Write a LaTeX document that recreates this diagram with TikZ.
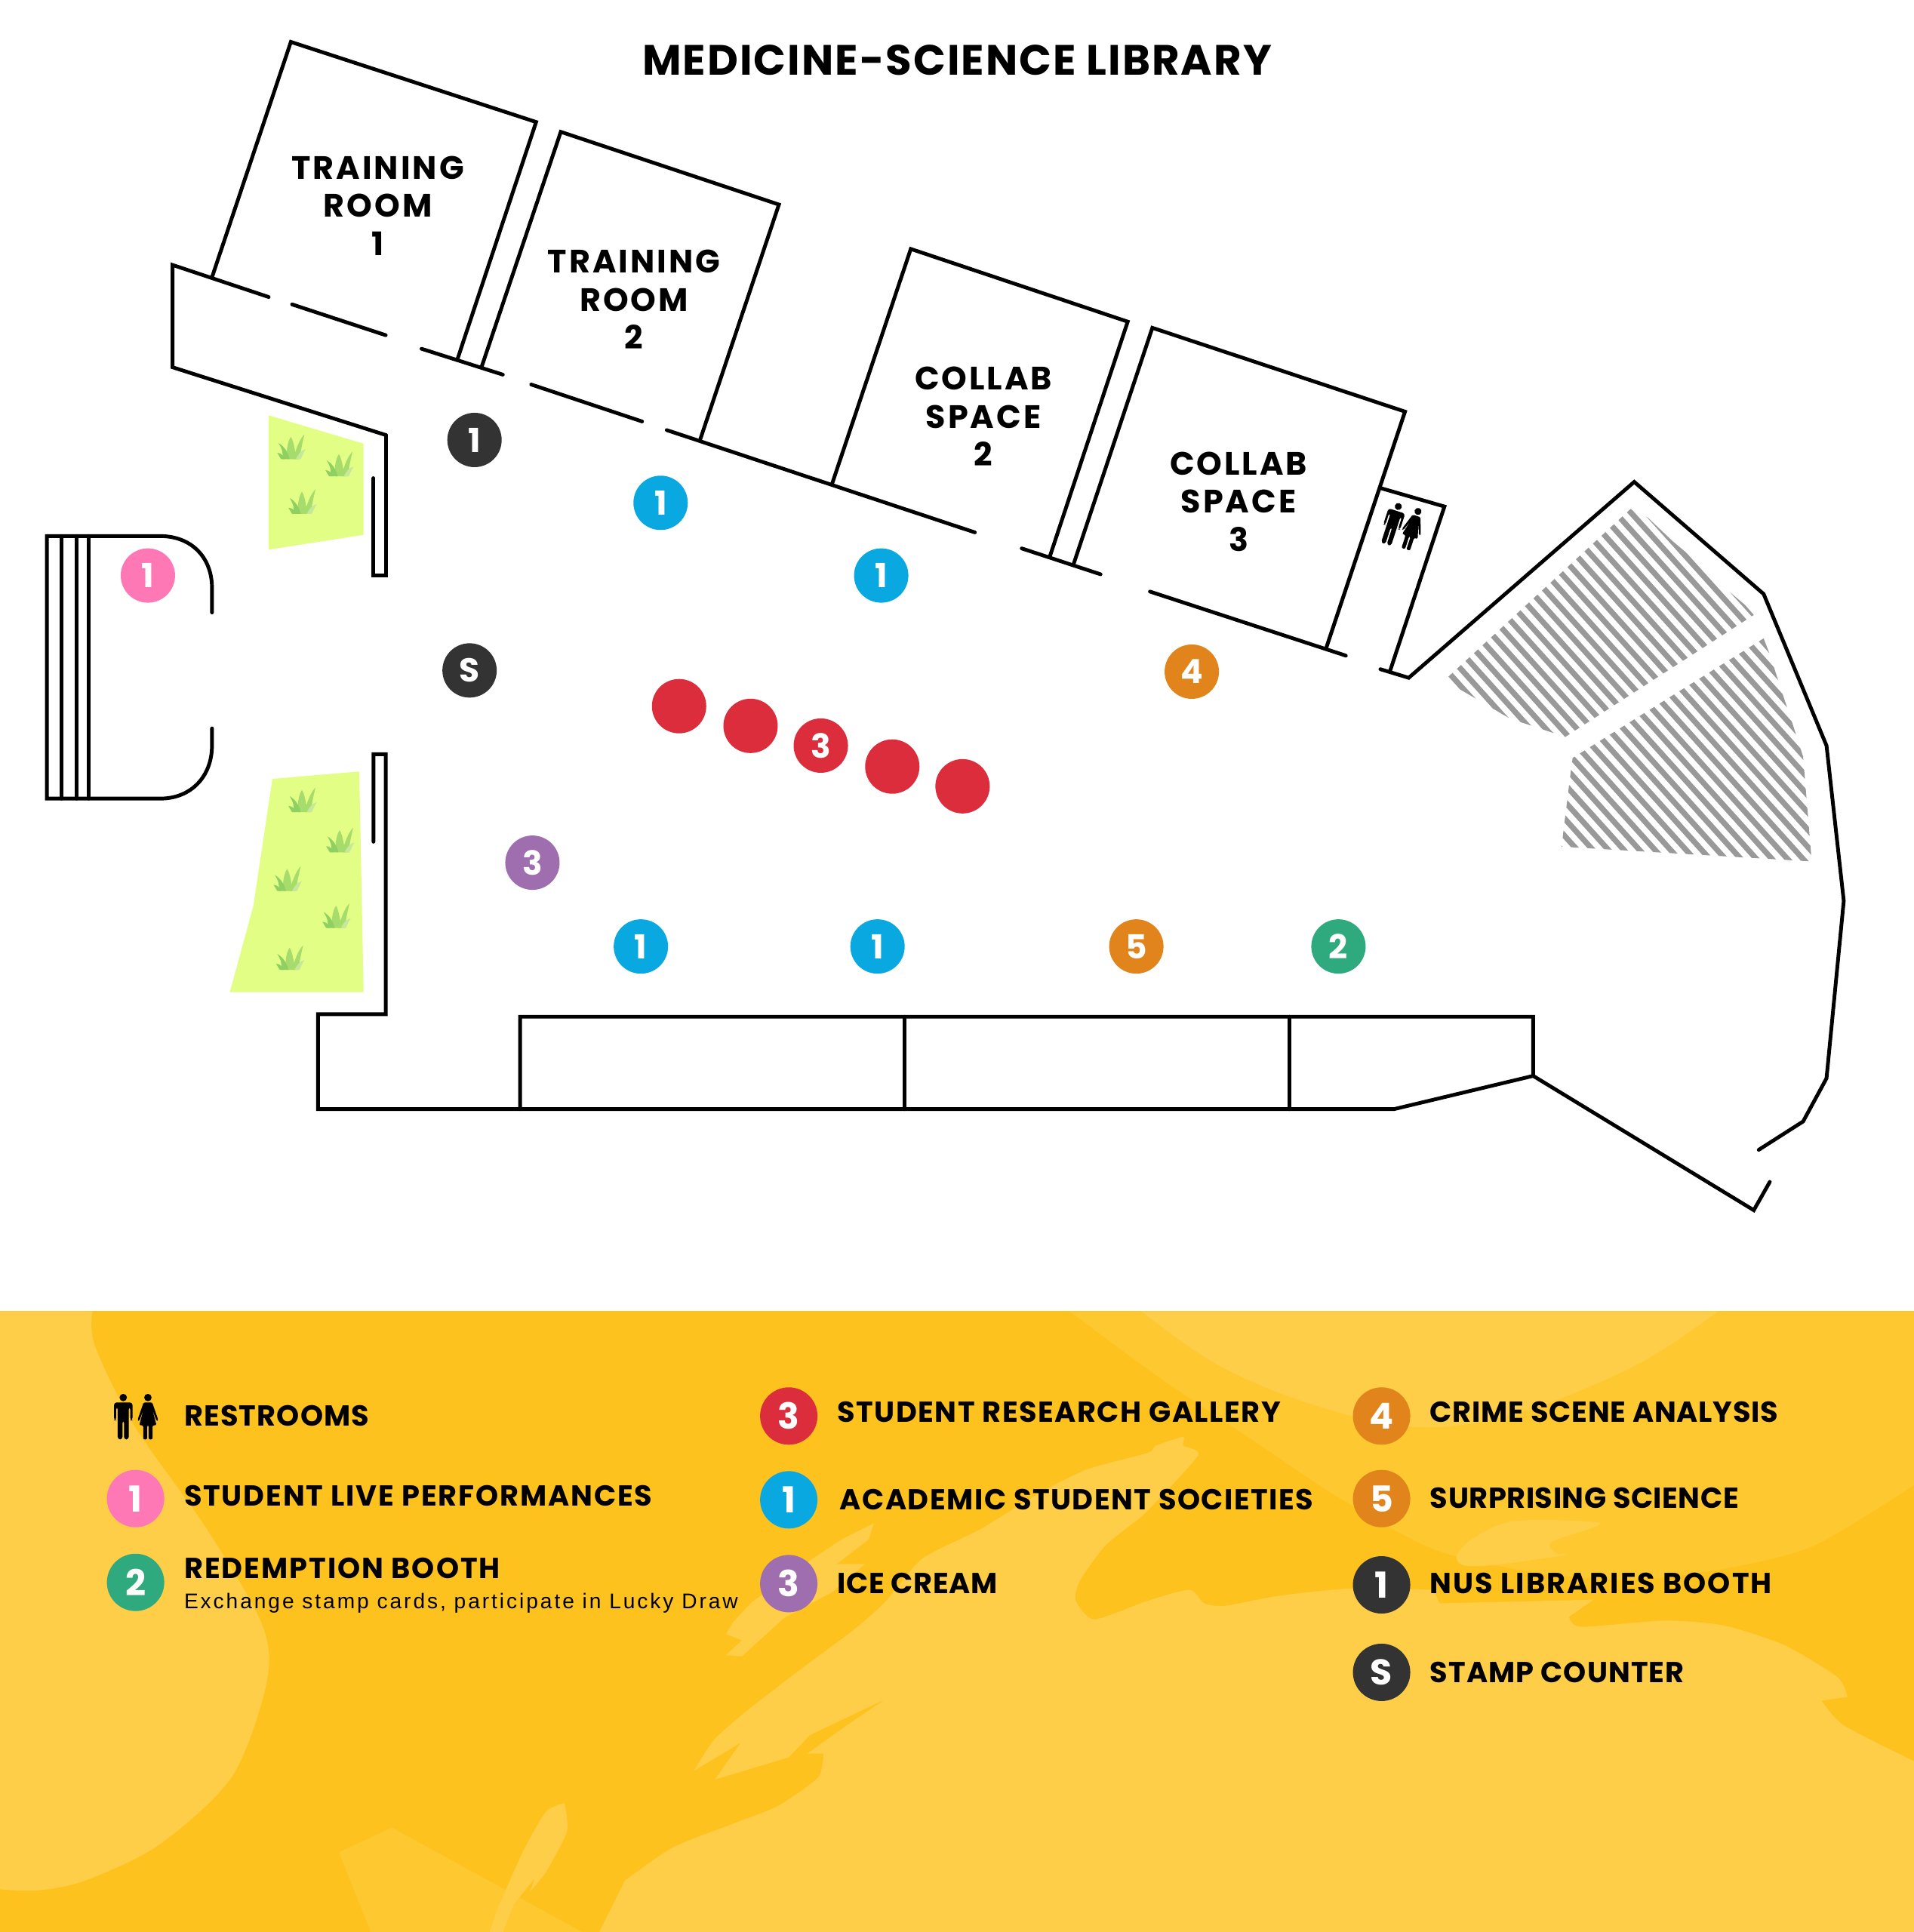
\documentclass[tikz,border=0pt]{standalone}
\usepackage{fontspec}
\setmainfont{Poppins}
\newfontfamily\titlefont{Poppins}[LetterSpace=3.6]
\newfontfamily\roomfont{Poppins}[LetterSpace=7]
\newfontfamily\legendfont{Poppins}[LetterSpace=4]
\newfontfamily\notefont{Liberation Sans}[LetterSpace=10.5]
\newcommand{\spaced}[2]{{\addfontfeature{LetterSpace=#1}#2}}
\usetikzlibrary{positioning}
\definecolor{basey}{HTML}{FDC21D}
\definecolor{midy}{HTML}{FEC830}
\definecolor{lighty}{HTML}{FECE48}
\definecolor{lawn}{HTML}{E3FE85}
\definecolor{bladea}{HTML}{A6DC6C}
\definecolor{bladeb}{HTML}{8FD062}
\definecolor{bladec}{HTML}{C6E89A}
\definecolor{darkc}{HTML}{333333}
\definecolor{bluec}{HTML}{0AA8E0}
\definecolor{pinkc}{HTML}{FF78B6}
\definecolor{redc}{HTML}{DC2D3D}
\definecolor{orangec}{HTML}{E1841B}
\definecolor{purplec}{HTML}{9E6EAF}
\definecolor{greenc}{HTML}{2EAA7E}
\tikzset{
	wall/.style={line width=1.4pt, line cap=round, line join=miter},
	spot/.style={circle, inner sep=0pt, minimum size=7.2mm, text=white, font=\fontsize{12.5}{14}\selectfont\bfseries},
	bigspot/.style={spot, minimum size=7.6mm, font=\fontsize{13.5}{15}\selectfont\bfseries},
	room/.style={align=center, font=\roomfont\fontsize{12.2}{14.4}\selectfont\bfseries},
	legendtext/.style={anchor=base west, inner sep=0pt, font=\legendfont\fontsize{10.9}{13}\selectfont\bfseries},
	stripe/.style={line width=2.1pt, color=black!40},
	tuft/.pic={
		\fill[bladea] (-3,10) .. controls (-4,1) and (-2,-5) .. (0,-8) .. controls (3,-3) and (3,4) .. (5,10) -- cycle;
		\fill[bladeb] (-7,10) .. controls (-6,5) and (-7,2) .. (-10,-3) .. controls (-5,0) and (-2,5) .. (-1,10) -- cycle;
		\fill[bladea] (2,10) .. controls (4,2) and (7,-6) .. (11,-10) .. controls (9,-2) and (8,4) .. (7,10) -- cycle;
		\fill[bladeb] (-11,5) .. controls (-8,5) and (-6,7) .. (-5,10) -- (-8,10) -- cycle;
		\fill[bladec] (4,10) .. controls (6,6) and (8,3) .. (12,2) .. controls (10,5) and (9,8) .. (8,10) -- cycle;
	},
	manicon/.pic={
		\fill (0,-15.5) circle (3);
		\fill[rounded corners=1] (-7.5,-11.5) -- (7.5,-11.5) -- (7.5,3) -- (5.7,3) -- (5.7,-8) -- (4.5,-8) -- (4.5,18.5) -- (0.6,18.5) -- (0.6,3) -- (-0.6,3) -- (-0.6,18.5) -- (-4.5,18.5) -- (-4.5,-8) -- (-5.7,-8) -- (-5.7,3) -- (-7.5,3) -- cycle;
	},
	womanicon/.pic={
		\fill (0,-15.5) circle (3);
		\fill[rounded corners=.6] (-3.5,-11.5) -- (3.5,-11.5) -- (8.5,3) -- (7,3.5) -- (3.5,-6) -- (7,7) -- (3.8,7) -- (3.8,18.5) -- (0.6,18.5) -- (0.6,7) -- (-0.6,7) -- (-0.6,18.5) -- (-3.8,18.5) -- (-3.8,7) -- (-7,7) -- (-3.5,-6) -- (-7,3.5) -- (-8.5,3) -- cycle;
	}
}
\begin{document}
\begin{tikzpicture}[x=0.1633mm, y=-0.1633mm]
	\useasboundingbox (0,0) rectangle (1553,1567.7);
	% legend background
	\fill[basey] (0,1064) rectangle (1553,1568);
	\fill[lighty] (0,1064) -- plot[smooth, tension=.5] coordinates {(75,1064) (77,1092) (109,1157) (168,1241) (213,1319) (216,1367) (188,1442) (129,1497) (69,1526) (30,1534) (0,1533)} -- cycle;
	\fill[midy] plot[smooth, tension=.5] coordinates {(868,1064) (941,1118) (1023,1173) (1086,1215) (1163,1257) (1240,1275) (1320,1282) (1399,1273) (1472,1254) (1553,1205)} -- (1553,1064) -- cycle;
	\fill[lighty] plot[smooth, tension=.6] coordinates {(926,1064) (989,1108) (1066,1140) (1148,1158) (1230,1147) (1327,1108) (1394,1064)} -- cycle;
	\fill[midy] (318,1483) -- (275,1503) -- (301,1568) -- (473,1568) -- cycle;
	\fill[lighty] (709,1236) -- (705,1249) -- (679,1269) -- (702,1269) -- (675,1292) -- (636,1313) -- (602,1344) -- (589,1343) -- (602,1331) -- (589,1326) -- (595,1316) -- (610,1300) -- (653,1269) -- (683,1249) -- cycle;
	\fill[lighty] plot[smooth, tension=.4] coordinates {(458,1463) (460,1486) (443,1519) (430,1535)} -- (434,1524) -- (417,1545) -- (408,1568) -- (397,1568) -- plot[smooth, tension=.4] coordinates {(404,1548) (425,1501) (443,1470) (458,1463)} -- cycle;
	\fill[lighty] plot[smooth, tension=.4] coordinates {(563,1437) (580,1411) (610,1385) (653,1352) (692,1323) (718,1300) (748,1265) (795,1241) (846,1210) (883,1192) (931,1179) (938,1173) (960,1166) (960,1173) (972,1181) (934,1223)} -- plot[smooth, tension=.4] coordinates {(926,1231) (897,1254) (876,1283) (873,1299) (888,1314) (931,1299) (965,1290) (977,1301) (994,1303) (1037,1295) (1095,1289) (1163,1290)} -- (1168,1301) -- (1293,1298) -- plot[smooth, tension=.4] coordinates {(1273,1312) (1283,1320) (1351,1315) (1399,1319) (1448,1335) (1491,1361) (1499,1377)} -- (1478,1380) -- plot[smooth, tension=.4] coordinates {(1478,1380) (1496,1400) (1553,1429)} -- (1553,1568) -- (486,1568) -- plot[smooth, tension=.4] coordinates {(507,1526) (546,1499) (597,1479) (632,1465) (664,1442) (668,1423)} -- (655,1423) -- (687,1400) -- (718,1379) -- (657,1408) -- (640,1426) -- (580,1444) -- (601,1414) -- cycle;
	\fill[lighty] plot[smooth cycle, tension=.5] coordinates {(1182,1262) (1197,1247) (1230,1234) (1298,1236) (1259,1251) (1262,1260) (1269,1262) (1211,1270) (1187,1270)};
	% lawns
	\fill[lawn] (218,337) -- (295,360) -- (295,434) -- (218,446) -- cycle;
	\fill[lawn] (221,632) -- (291.5,626) -- (295,805) -- (186.5,805) -- (205.6,735) -- cycle;
	\path (236,362.5) pic {tuft} (275,376.5) pic {tuft} (245,407) pic {tuft};
	\path (245,649) pic {tuft} (275.6,681.6) pic {tuft} (233,713) pic {tuft} (272.6,743) pic {tuft} (235,777) pic {tuft};
	% seating
	\begin{scope}
		\clip (1172,552) -- (1323,413) -- (1337,420) -- (1357,439) -- (1376,455) -- (1396,474) -- (1416,491) -- (1423,499) -- (1270,598) -- (1225,583) -- cycle (1276,615) -- (1431,518) -- (1436,531) -- (1445,559) -- (1455,589) -- (1463,614) -- (1470,699) -- (1267,687) -- (1274,630) -- cycle;
		\foreach \i in {-4,...,28}
			\draw[stripe] (1100,{168.1+14*\i}) -- (1550,{667.6+14*\i});
	\end{scope}
	% walls
	\draw[wall] (172,225) -- (236,34) -- (435,99) -- (371,292);
	\draw[wall] (391,297) -- (455,107) -- (632,166) -- (568,357);
	\draw[wall] (675,393) -- (739,202) -- (915,261) -- (852,451);
	\draw[wall] (871,458) -- (935,266) -- (1140,334) -- (1076,526);
	\draw[wall] (1120,396) -- (1172,411) -- (1128,544);
	\draw[wall] (313,353) -- (140,298) -- (140,215) -- (218,241);
	\draw[wall] (237,247) -- (313,272);
	\draw[wall] (342,283) -- (408,304);
	\draw[wall] (431,312) -- (521,342);
	\draw[wall] (541,349) -- (791,432);
	\draw[wall] (829,445) -- (893,466);
	\draw[wall] (933,480) -- (1092,532);
	\draw[wall] (1120,543) -- (1143,550) -- (1326,391) -- (1431,482) -- (1482,605) -- (1496,731) -- (1482,875) -- (1463,910) -- (1427,933);
	\draw[wall] (1436,959) -- (1423,982) -- (1244,873) -- (1244,825) -- (422,825) -- (422,900);
	\draw[wall] (1244,873) -- (1131,900) -- (258,900) -- (258,823) -- (313,823) -- (313,612) -- (303,612) -- (303,683);
	\draw[wall] (734,825) -- (734,900);
	\draw[wall] (1046,825) -- (1046,900);
	\draw[wall] (303,388) -- (303,467) -- (313,467) -- (313,353);
	% stage
	\draw[wall] (172,497) -- (172,477) .. controls (172,452) and (155,435) .. (130,435) -- (38,435) -- (38,648) -- (130,648) .. controls (155,648) and (172,630) .. (172,605) -- (172,591);
	\draw[wall] (50,435) -- (50,648);
	\draw[wall] (62,435) -- (62,648);
	\draw[wall] (72,435) -- (72,648);
	\path (1130,425) pic[rotate=-18, scale=.95] {manicon};
	\path (1146,429) pic[rotate=-18, scale=.95] {womanicon};
	% titles
	\node[font=\titlefont\fontsize{16}{18}\selectfont\bfseries] (title) at (776.5,49) {MEDICINE-SCIENCE LIBRARY};
	\node[room] (train1) at (306.5,167) {TRAINING\\ROOM\\1};
	\node[room] (train2) at (514.5,243) {TRAINING\\ROOM\\2};
	\node[room] (collab2) at (798,338) {COLLAB\\SPACE\\2};
	\node[room] (collab3) at (1005,407) {COLLAB\\SPACE\\3};
	% map spots
	\node[spot, fill=darkc] (nus) at (385,357) {1};
	\node[spot, fill=darkc] (stamp) at (381,544) {S};
	\node[spot, fill=pinkc] (live) at (120,467) {1};
	\node[spot, fill=bluec] (socA) at (536,408) {1};
	\node[spot, fill=bluec] (socB) at (715,467) {1};
	\node[spot, fill=bluec] (socC) at (520,768) {1};
	\node[spot, fill=bluec] (socD) at (712,768) {1};
	\node[spot, fill=redc] (resA) at (551,573) {};
	\node[spot, fill=redc] (resB) at (609,589) {};
	\node[spot, fill=redc] (resC) at (666,605) {3};
	\node[spot, fill=redc] (resD) at (724,622) {};
	\node[spot, fill=redc] (resE) at (781,638) {};
	\node[spot, fill=purplec] (ice) at (432,700) {3};
	\node[spot, fill=orangec] (crime) at (967,545) {4};
	\node[spot, fill=orangec] (surp) at (922,768) {5};
	\node[spot, fill=greenc] (redeem) at (1086,768) {2};
	% legend
	\path (100,1149.5) pic {manicon};
	\path (120,1149.5) pic {womanicon};
	\node[bigspot, fill=pinkc] (keylive) at (110,1216) {1};
	\node[bigspot, fill=greenc] (keyredeem) at (110,1284) {2};
	\node[bigspot, fill=redc] (keyres) at (640,1149) {3};
	\node[bigspot, fill=bluec] (keysoc) at (640,1217) {1};
	\node[bigspot, fill=purplec] (keyice) at (640,1285) {3};
	\node[bigspot, fill=orangec] (keycrime) at (1121,1149) {4};
	\node[bigspot, fill=orangec] (keysurp) at (1121,1216) {5};
	\node[bigspot, fill=darkc] (keynus) at (1121,1286) {1};
	\node[bigspot, fill=darkc] (keystamp) at (1121,1357) {S};
	\node[legendtext] (restrooms) at (149,1157) {\spaced{3.1}{RESTROOMS}};
	\node[legendtext] (livetext) at (149,1222) {\spaced{4.9}{STUDENT LIVE PERFORMANCES}};
	\node[legendtext] (redeemtext) at (149,1281) {\spaced{5.3}{REDEMPTION BOOTH}};
	\node[anchor=base west, inner sep=0pt, font=\notefont\fontsize{8}{10}\selectfont] (note) at (149,1305) {Exchange stamp cards, participate in Lucky Draw};
	\node[legendtext] (restext) at (679,1154) {STUDENT RESEARCH GALLERY};
	\node[legendtext] (soctext) at (681,1225) {ACADEMIC STUDENT SOCIETIES};
	\node[legendtext] (icetext) at (679,1293) {\spaced{1.6}{ICE CREAM}};
	\node[legendtext] (crimetext) at (1160,1154) {\spaced{2}{CRIME SCENE ANALYSIS}};
	\node[legendtext] (surptext) at (1160,1224) {\spaced{1.4}{SURPRISING SCIENCE}};
	\node[legendtext] (nustext) at (1160,1293) {\spaced{5.3}{NUS LIBRARIES BOOTH}};
	\node[legendtext] (stamptext) at (1160,1365) {\spaced{2.7}{STAMP COUNTER}};
\end{tikzpicture}
\end{document}
